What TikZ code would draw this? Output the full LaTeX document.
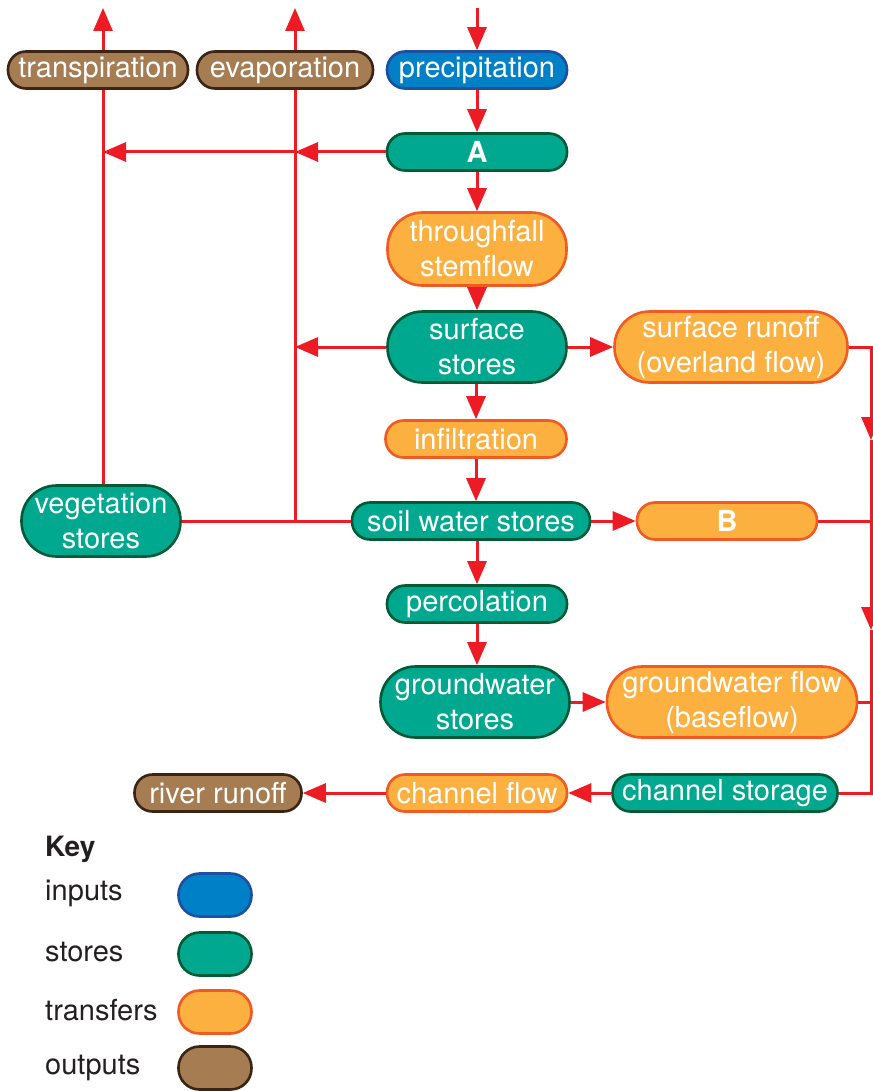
\documentclass[tikz,border=0pt]{standalone}
\usepackage{fontspec}
\setmainfont{TeX Gyre Heros}
\usetikzlibrary{arrows.meta,backgrounds}
\definecolor{arrred}{HTML}{ED1C24}
\definecolor{inpF}{HTML}{0080C6}
\definecolor{inpD}{HTML}{1E4FA0}
\definecolor{stoF}{HTML}{00A88F}
\definecolor{stoD}{HTML}{005B36}
\definecolor{traF}{HTML}{FBB040}
\definecolor{traD}{HTML}{F15A24}
\definecolor{outF}{HTML}{A67C52}
\definecolor{outD}{HTML}{3C2415}
\definecolor{keytext}{HTML}{231F20}
\tikzset{
  box/.style={draw, line width=2.6pt, text=white, align=center, inner sep=0pt,
    font=\fontsize{29}{35}\selectfont},
  onerow/.style={minimum height=37pt, rounded corners=18pt},
  tworow/.style={minimum height=71pt, rounded corners=35pt},
  inp/.style={box, fill=inpF, draw=inpD},
  sto/.style={box, fill=stoF, draw=stoD},
  tra/.style={box, fill=traF, draw=traD},
  outp/.style={box, fill=outF, draw=outD},
  flow/.style={draw=arrred, line width=3pt},
  arr/.style={flow, -{Triangle[length=23pt,width=19pt]}},
  keylabel/.style={anchor=west, inner sep=0pt, text=keytext, font=\fontsize{29}{32}\selectfont},
  swatch/.style={minimum width=73pt, minimum height=43pt, rounded corners=21pt, inner sep=0pt, line width=2.6pt, draw}
}
\begin{document}
\begin{tikzpicture}[x=1pt,y=-1pt]
\useasboundingbox (0,0) rectangle (872,1091);
% nodes
\node[outp,onerow,minimum width=180pt] (transp) at (98,70) {transpiration};
\node[outp,onerow,minimum width=176pt] (evap) at (285,70) {evaporation};
\node[inp,onerow,minimum width=180pt] (precip) at (477,70) {precipitation};
\node[sto,onerow,minimum width=180pt] (A) at (477,152) {\textbf{A}};
\node[tra,tworow,minimum width=179pt,minimum height=73pt] (through) at (477,249) {throughfall\\stemflow};
\node[sto,tworow,minimum width=179pt] (surf) at (477,347) {surface\\stores};
\node[tra,tworow,minimum width=233pt] (runoff) at (731,347) {surface runoff\\(overland flow)};
\node[tra,onerow,minimum width=181pt] (infil) at (476,439) {infiltration};
\node[sto,onerow,minimum width=238pt] (soil) at (471,521) {soil water stores};
\node[tra,onerow,minimum width=180pt] (B) at (727,521) {\textbf{B}};
\node[sto,tworow,minimum width=159pt] (veg) at (101,521) {vegetation\\stores};
\node[sto,onerow,minimum width=180pt] (perc) at (477,604) {percolation};
\node[sto,tworow,minimum width=189pt] (gws) at (475,702) {groundwater\\stores};
\node[tra,tworow,minimum width=250pt] (gwf) at (732,702) {groundwater flow\\(baseflow)};
\node[sto,onerow,minimum width=225pt] (chs) at (725,793) {channel storage};
\node[tra,onerow,minimum width=180pt] (chf) at (477,793) {channel flow};
\node[outp,onerow,minimum width=167pt] (river) at (218,793) {river runoff};
% coordinates
\coordinate (ptop) at (477,8);
\coordinate (ttop) at (103,8);
\coordinate (etop) at (295,8);
\coordinate (ej) at (295,521);
\coordinate (rx) at (871,0);
\coordinate (r1) at (871,440);
\coordinate (r2) at (871,630);
% connectors
\begin{scope}[on background layer]
\draw[arr] (veg.north -| ttop) -- (ttop);
\draw[arr] (ej) -- (etop);
\end{scope}
\draw[arr] (ptop) -- (precip.north);
\draw[arr] (precip) -- (A);
\draw[arr] (A) -- (through);
\draw[arr] (through) -- (surf);
\draw[arr] (surf.south -| infil.north) -- (infil.north);
\draw[arr] (infil.south) -- (infil.south |- soil.north);
\draw[arr] (soil.south -| perc.north) -- (perc.north);
\draw[arr] (perc.south) -- (perc.south |- gws.north);
\draw[arr] (A.west) -- (ej |- A.west);
\draw[arr] (ej |- A.west) -- (ttop |- A.west);
\draw[arr] (surf.west) -- (ej |- surf.west);
\draw[flow] (veg.east) -- (soil.west);
\draw[arr] (surf) -- (runoff);
\draw[arr] (soil) -- (B);
\draw[arr] (gws) -- (gwf);
\draw[arr] (chs) -- (chf);
\draw[arr] (chf) -- (river);
\draw[arr] (runoff.east) -| (r1);
\draw[arr] (r1) -- (r2);
\draw[flow] (r2) |- (chs.east);
\draw[flow] (B.east) -- (B.east -| rx);
\draw[flow] (gwf.east) -- (gwf.east -| rx);
% key
\node[keylabel,font=\fontsize{28}{30}\selectfont\bfseries] (key) at (45,849) {Key};
\node[keylabel] (kin) at (45,893) {inputs};
\node[keylabel] (kst) at (45,952) {stores};
\node[keylabel] (ktr) at (45,1010) {transfers};
\node[keylabel] (kou) at (45,1068) {outputs};
\node[swatch,fill=inpF,draw=inpD] (sin) at (215,895) {};
\node[swatch,fill=stoF,draw=stoD] (sst) at (215,954) {};
\node[swatch,fill=traF,draw=traD] (str) at (215,1012) {};
\node[swatch,fill=outF,draw=outD] (sou) at (215,1068) {};
\end{tikzpicture}
\end{document}
